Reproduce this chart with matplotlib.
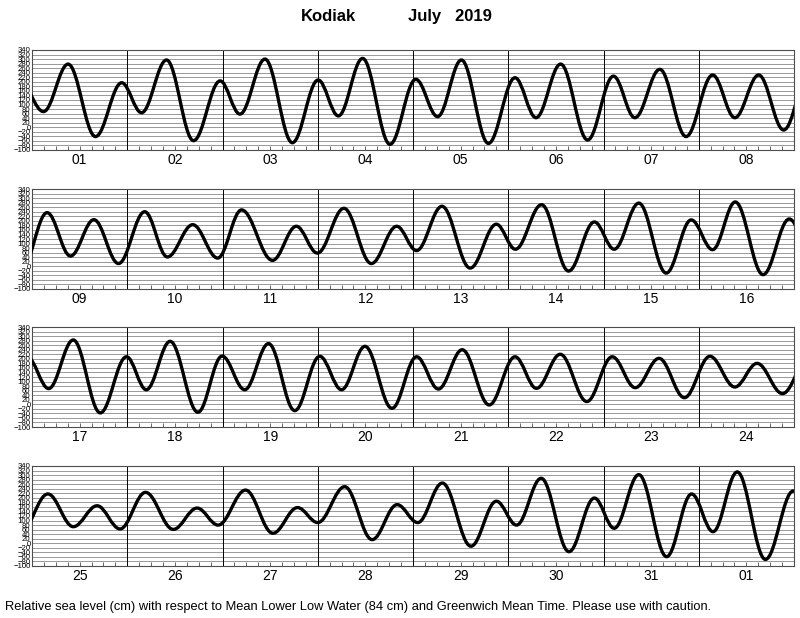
import matplotlib
matplotlib.use("Agg")
import matplotlib.pyplot as plt
from matplotlib.path import Path
from matplotlib.patches import PathPatch
from matplotlib.transforms import blended_transform_factory

plt.rcParams['font.family'] = ['Liberation Sans', 'DejaVu Sans']

station = "Kodiak"
month_label = "July   2019"
footer = ("Relative sea level (cm) with respect to Mean Lower Low Water (84 cm) "
          "and Greenwich Mean Time. Please use with caution.")

# High / low water turning points: hours since 1 July 2019 00:00 GMT, and height (cm)
ext_hours = [
    -3.1, 2.9, 9.1, 16.0, 22.6, 27.6, 33.9, 40.7, 47.4, 52.4, 58.7, 65.6,
    72.1, 77.2, 83.3, 90.2, 96.7, 102.2, 108.2, 115.0, 121.7, 127.0, 133.2, 140.0,
    146.5, 151.9, 158.2, 164.8, 171.5, 177.1, 183.1, 189.4,
    195.8, 201.7, 207.6, 213.8, 220.4, 226.1, 232.5, 238.8, 244.8, 252.6, 258.6, 263.9,
    270.6, 277.5, 283.9, 288.9, 295.3, 302.4, 309.0, 313.8, 320.4, 327.2, 333.7, 338.7,
    344.9, 351.8, 358.1, 363.5, 369.2, 376.2, 382.8,
    388.2, 394.4, 401.2, 407.8, 412.8, 418.8, 425.8, 431.9, 437.6, 443.6, 450.2, 456.5,
    462.0, 467.9, 474.7, 480.9, 486.4, 492.4, 499.2, 505.7, 511.1, 517.1, 523.8, 530.2,
    536.0, 542.0, 548.4, 554.8, 561.1, 566.7, 573.1,
    580.0, 586.4, 592.4, 598.2, 604.6, 611.6, 617.6, 622.9, 629.8, 636.7, 642.9, 648.0,
    654.8, 661.7, 668.0, 673.2, 679.4, 686.6, 693.0, 698.1, 704.3, 711.3, 717.7, 722.7,
    728.9, 735.9, 742.2, 747.6, 753.7, 760.8, 767.8, 774.0,
]
ext_cm = [
    205, 69, 278, -41, 196, 64, 296, -59, 204, 58, 300, -68,
    208, 50, 303, -75, 211, 47, 296, -71, 218, 42, 278, -56,
    225, 42, 255, -41, 230, 42, 230, -12,
    236, 45, 205, 12, 240, 41, 183, 36, 248, 26, 176, 58,
    255, 12, 176, 69, 264, -8, 185, 75, 271, -21, 195, 75,
    278, -30, 204, 73, 283, -37, 208,
    69, 283, -38, 209, 64, 277, -35, 212, 64, 267, -28, 211,
    64, 255, -18, 209, 67, 240, -3, 209, 70, 220, 12, 209,
    73, 202, 29, 211, 76, 180, 47,
    217, 73, 165, 63, 224, 61, 155, 80, 234, 44, 157, 91,
    249, 16, 170, 91, 265, -13, 185, 80, 286, -37, 199, 66,
    302, -59, 217, 51, 314, -71, 230, 60,
]

days_in_month = 31
panel_days = 8
y_min, y_max, y_step = -100, 340, 20


def tide_path(hours, cm):
    # smooth curve through turning points: cubic Bezier segments with flat tangents
    k = 0.3642
    verts = [(hours[0], cm[0])]
    codes = [Path.MOVETO]
    for i in range(len(hours) - 1):
        t0, h0, t1, h1 = hours[i], cm[i], hours[i + 1], cm[i + 1]
        dt = t1 - t0
        verts += [(t0 + k * dt, h0), (t1 - k * dt, h1), (t1, h1)]
        codes += [Path.CURVE4] * 3
    return Path(verts, codes)


fig = plt.figure(figsize=(8, 6.18), dpi=100)
W, H = 800.0, 618.0
panel_tops = [50, 189, 327, 466]
left_px, width_px, height_px = 32, 762, 100

for p, top in enumerate(panel_tops):
    ax = fig.add_axes([left_px / W, 1 - (top + height_px) / H, width_px / W, height_px / H])
    x0 = p * panel_days * 24
    x1 = x0 + panel_days * 24
    ax.set_xlim(x0, x1)
    ax.set_ylim(y_min, y_max)

    yt = list(range(y_min, y_max + 1, y_step))
    ax.set_yticks(yt)
    ax.set_yticklabels([f"{v}".replace('-', '\u2212') for v in yt], fontsize=5.6)
    ax.tick_params(axis='y', length=0, pad=1)
    for v in yt:
        ax.axhline(v, color='0.6', lw=0.7, zorder=1)

    ax.set_xticks(range(x0, x1 + 1, 3))
    ax.set_xticklabels([])
    ax.tick_params(axis='x', direction='in', length=3, width=0.6, color='0.3')
    for d in range(1, panel_days):
        ax.axvline(x0 + d * 24, color='black', lw=0.7, zorder=2)

    trans = blended_transform_factory(ax.transData, ax.transAxes)
    for d in range(panel_days):
        day_num = (p * panel_days + d) % days_in_month + 1
        ax.text(x0 + d * 24 + 12, -0.10, f"{day_num:02d}", transform=trans,
                ha='center', va='center', fontsize=10)

    for s in ax.spines.values():
        s.set_color('0.3')
        s.set_linewidth(0.8)

    patch = PathPatch(tide_path(ext_hours, ext_cm), fill=False, edgecolor='black',
                      lw=2.4, zorder=3, capstyle='round', joinstyle='round')
    ax.add_patch(patch)

fig.text(0.411, 0.974, station, ha='center', va='center', fontsize=12, fontweight='bold')
fig.text(0.563, 0.974, month_label, ha='center', va='center', fontsize=12, fontweight='bold')
fig.text(0.006, 0.018, footer, ha='left', va='center', fontsize=9.25)

fig.savefig("out.png", dpi=100)
